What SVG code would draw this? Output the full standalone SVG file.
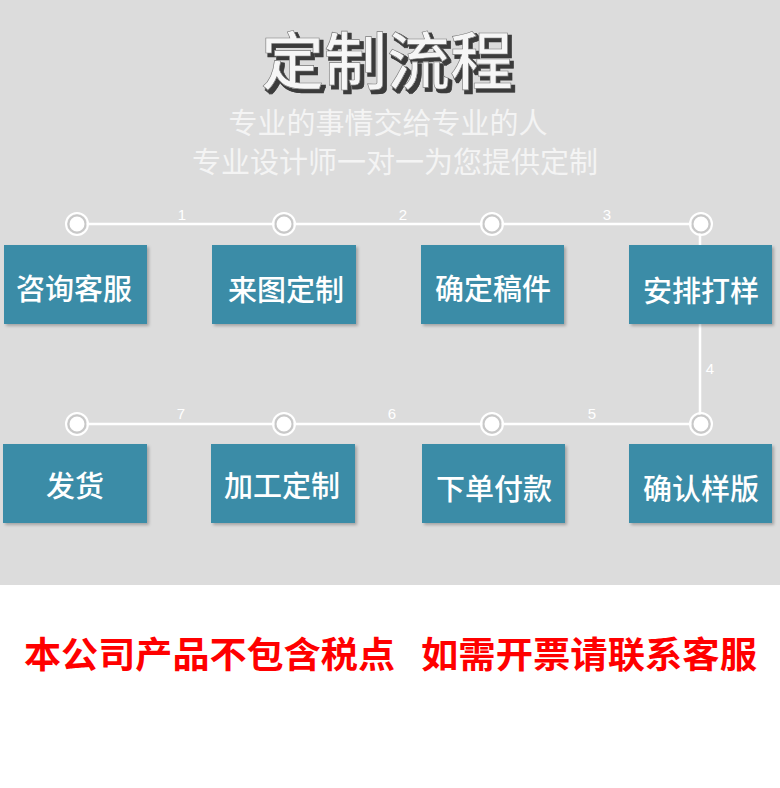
<svg xmlns="http://www.w3.org/2000/svg" width="780" height="788" viewBox="0 0 780 788">
<defs>
<style>
.box{fill:#3a8ca7;filter:url(#sh)}
.bt{font-family:"Noto Sans CJK SC","Noto Sans",sans-serif;font-size:29px;font-weight:500;fill:#ffffff;text-anchor:middle}
.num{font-family:"Liberation Sans",sans-serif;font-size:15px;fill:#ffffff;text-anchor:middle}
.ln{stroke:#ffffff;stroke-width:2.5;fill:none}
.dot{fill:#ffffff;stroke:#c8c8c8;stroke-width:2}
.ring{fill:none;stroke:#ffffff;stroke-width:2}
.sub{font-family:"Noto Sans CJK SC",sans-serif;font-size:29px;fill:#f4f4f4;text-anchor:middle}
.red{font-family:"Noto Sans CJK SC",sans-serif;font-size:36px;font-weight:bold;fill:#ff0000}
</style>
<filter id="sh" x="-5%" y="-5%" width="115%" height="115%">
<feDropShadow dx="2" dy="2" stdDeviation="1.5" flood-color="#000" flood-opacity="0.25"/>
</filter>
<filter id="ts" x="-5%" y="-10%" width="115%" height="130%">
<feMorphology in="SourceAlpha" operator="dilate" radius="0.8" result="d"/>
<feOffset in="d" dx="3" dy="3" result="o"/>
<feFlood flood-color="#3a3a3a"/>
<feComposite in2="o" operator="in" result="s"/>
<feMerge><feMergeNode in="s"/><feMergeNode in="SourceGraphic"/></feMerge>
</filter>
</defs>
<rect x="0" y="0" width="780" height="585" fill="#dcdcdc"/>
<rect x="0" y="585" width="780" height="203" fill="#ffffff"/>
<g id="title">
<text x="387" y="84" font-family="Noto Sans CJK SC,sans-serif" font-size="63" font-weight="500" text-anchor="middle" fill="#f6f6f6" stroke="#777" stroke-width="0.6" filter="url(#ts)">定制流程</text>
<text class="sub" x="388" y="134">专业的事情交给专业的人</text>
<text class="sub" x="395" y="173">专业设计师一对一为您提供定制</text>
</g>
<g id="connectors">
<path class="ln" d="M77 224 H700 V424 H77"/>
<text class="num" x="182" y="220">1</text>
<text class="num" x="403" y="220">2</text>
<text class="num" x="607" y="220">3</text>
<text class="num" x="710" y="374">4</text>
<text class="num" x="592" y="419">5</text>
<text class="num" x="392" y="419">6</text>
<text class="num" x="181" y="419">7</text>
<g>
<circle class="ring" cx="77" cy="224" r="11"/><circle class="dot" cx="77" cy="224" r="8.5"/>
<circle class="ring" cx="284" cy="224" r="11"/><circle class="dot" cx="284" cy="224" r="8.5"/>
<circle class="ring" cx="492" cy="224" r="11"/><circle class="dot" cx="492" cy="224" r="8.5"/>
<circle class="ring" cx="701" cy="224" r="11"/><circle class="dot" cx="701" cy="224" r="8.5"/>
<circle class="ring" cx="77" cy="424" r="11"/><circle class="dot" cx="77" cy="424" r="8.5"/>
<circle class="ring" cx="284" cy="424" r="11"/><circle class="dot" cx="284" cy="424" r="8.5"/>
<circle class="ring" cx="492" cy="424" r="11"/><circle class="dot" cx="492" cy="424" r="8.5"/>
<circle class="ring" cx="701" cy="424" r="11"/><circle class="dot" cx="701" cy="424" r="8.5"/>
</g>
</g>
<g id="n1"><rect class="box" x="4" y="245" width="143" height="79"/><text class="bt" x="74" y="300">咨询客服</text></g>
<g id="n2"><rect class="box" x="212" y="245" width="144" height="79"/><text class="bt" x="286" y="301">来图定制</text></g>
<g id="n3"><rect class="box" x="421" y="245" width="143" height="79"/><text class="bt" x="493" y="300">确定稿件</text></g>
<g id="n4"><rect class="box" x="629" y="245" width="143" height="79"/><text class="bt" x="701" y="302">安排打样</text></g>
<g id="n5"><rect class="box" x="629" y="444" width="143" height="79"/><text class="bt" x="701" y="500">确认样版</text></g>
<g id="n6"><rect class="box" x="422" y="444" width="143" height="79"/><text class="bt" x="494" y="500">下单付款</text></g>
<g id="n7"><rect class="box" x="211" y="444" width="144" height="79"/><text class="bt" x="282" y="497">加工定制</text></g>
<g id="n8"><rect class="box" x="3" y="444" width="144" height="79"/><text class="bt" x="75" y="497">发货</text></g>
<g id="notice">
<text class="red" x="24" y="668" textLength="371" lengthAdjust="spacingAndGlyphs">本公司产品不包含税点</text>
<text class="red" x="421" y="668" textLength="336" lengthAdjust="spacingAndGlyphs">如需开票请联系客服</text>
</g>
</svg>
